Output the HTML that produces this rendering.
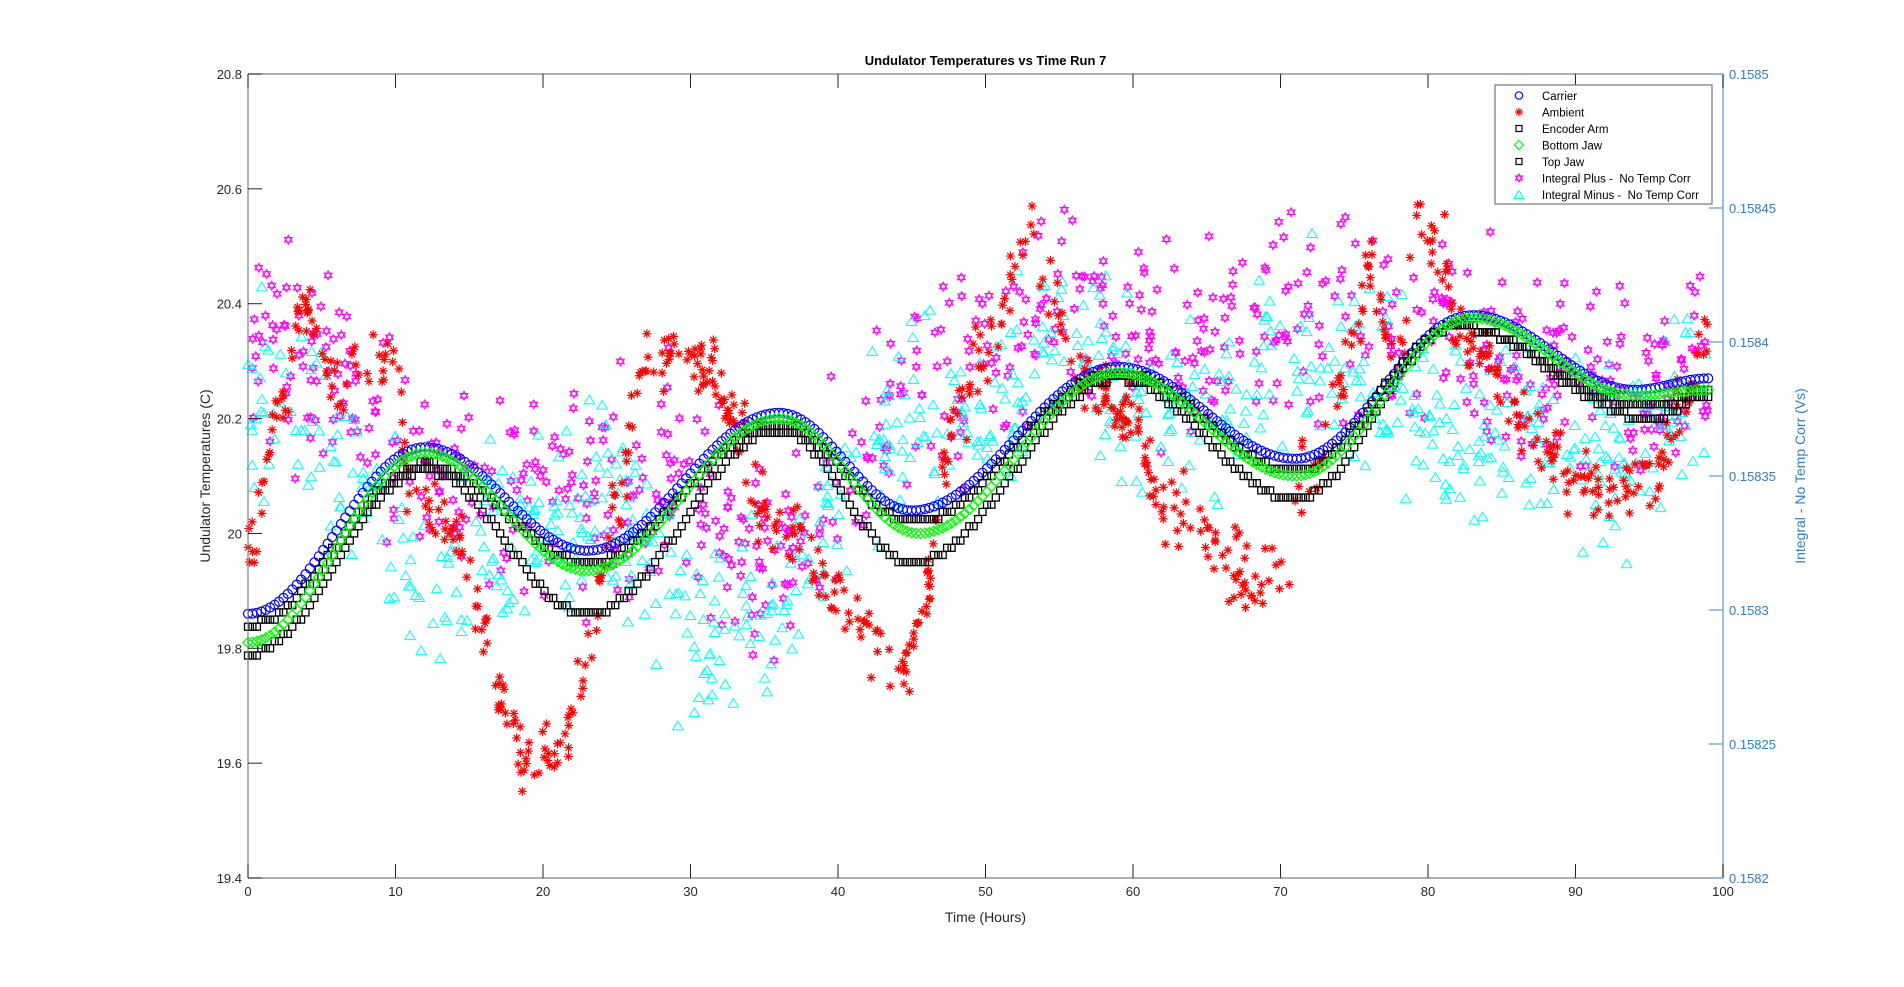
<!DOCTYPE html>
<html><head><meta charset="utf-8"><style>
html,body{margin:0;padding:0;background:#fff;width:1904px;height:987px;overflow:hidden}
svg{display:block}
text{font-family:"Liberation Sans",Arial,sans-serif}
</style></head><body>
<svg id="s" width="1904" height="987" xmlns="http://www.w3.org/2000/svg"></svg>
<script>
(function(){
var S=document.getElementById('s');
var X0=248,X1=1723,Y0=74,Y1=878;
function px(t){return X0+(t/100)*(X1-X0);}
function py(v){return Y1-(v-19.4)/1.4*(Y1-Y0);}
var seed=12345;function rnd(){seed=(seed*1103515245+12345)%2147483648;return seed/2147483648;}
function gauss(){return (rnd()+rnd()+rnd()+rnd()-2)/0.58;}
function interp(k,t){for(var i=0;i<k.length-1;i++){if(t<=k[i+1][0]){var a=k[i],b=k[i+1];var f=(t-a[0])/(b[0]-a[0]);var c=(1-Math.cos(Math.PI*f))/2;return a[1]+(b[1]-a[1])*c;}}return k[k.length-1][1];}
var h='';
var carrier=[[0,19.86],[12,20.15],[23,19.97],[36,20.21],[45,20.04],[59,20.29],[71,20.13],[83,20.38],[94,20.25],[99,20.27]];
var bottomJ=[[0,19.81],[12,20.14],[23,19.935],[36,20.2],[45.5,20.0],[59,20.28],[71,20.1],[83,20.375],[94,20.24],[99,20.25]];
var encA=[[0,19.79],[12,20.11],[23,19.86],[36,20.18],[45,19.95],[59,20.27],[71,20.06],[82,20.36],[95,20.20],[99,20.24]];
var topJ=[[0,19.84],[12,20.12],[23,19.95],[36,20.19],[45,20.02],[59,20.28],[71,20.11],[82,20.36],[95,20.22],[99,20.25]];
var amb=[[0,19.98],[2,20.2],[4,20.4],[6,20.25],[8,20.3],[10,20.3],[11,20.05],[14,20.0],[16,19.85],[17,19.7],[19.5,19.6],[21,19.62],[23,19.8],[25,20.05],[27,20.3],[29,20.3],[31,20.3],[33,20.2],[35,20.05],[37,20.0],[40,19.9],[43,19.8],[44.5,19.75],[46,19.9],[48,20.2],[50,20.3],[52,20.45],[53,20.55],[54,20.45],[56,20.3],[58,20.25],[60,20.2],[62,20.05],[65,20.0],[67,19.95],[68,19.88],[70,19.95],[72,20.1],[74,20.25],[75,20.35],[76,20.45],[78,20.3],[79.5,20.55],[81,20.5],[82,20.35],[84,20.3],[86,20.2],[88,20.15],[90,20.1],[92,20.07],[95,20.1],[97,20.2],[99,20.35]];
var mag=[[0,20.3],[5,20.28],[10,20.15],[15,20.05],[20,20.05],[25,20.1],[30,20.05],[35,19.95],[40,20.05],[45,20.25],[50,20.3],[55,20.4],[60,20.35],[65,20.3],[70,20.38],[75,20.42],[80,20.35],[85,20.3],[90,20.3],[95,20.25],[99,20.3]];
var cya=[[0,20.25],[5,20.2],[10,20.0],[13,19.9],[15,19.95],[20,20.0],[25,20.05],[30,19.85],[35,19.85],[40,20.05],[45,20.2],[50,20.2],[55,20.35],[60,20.25],[65,20.2],[70,20.3],[75,20.3],[80,20.2],[85,20.2],[90,20.15],[95,20.15],[99,20.25]];
function hexa(x,y,r){var a=[],b=[];for(var i=0;i<3;i++){var t=-Math.PI/2+i*2*Math.PI/3;a.push((x+r*Math.cos(t)).toFixed(1)+','+(y+r*Math.sin(t)).toFixed(1));t=Math.PI/2+i*2*Math.PI/3;b.push((x+r*Math.cos(t)).toFixed(1)+','+(y+r*Math.sin(t)).toFixed(1));}return '<polygon points="'+a.join(' ')+'"/><polygon points="'+b.join(' ')+'"/>';}
function star(x,y,r){return '<path d="M'+(x-r)+','+y+'H'+(x+r)+'M'+x+','+(y-r)+'V'+(y+r)+'M'+(x-r*.7)+','+(y-r*.7)+'L'+(x+r*.7)+','+(y+r*.7)+'M'+(x-r*.7)+','+(y+r*.7)+'L'+(x+r*.7)+','+(y-r*.7)+'"/>';}
function tri(x,y,r){return '<polygon points="'+x+','+(y-r)+' '+(x-r*0.95)+','+(y+r*0.6)+' '+(x+r*0.95)+','+(y+r*0.6)+'"/>';}
var g='';
var cg='',mg='';
for(var i=0;i<750;i++){var t=rnd()*99;var v=interp(cya,t)+gauss()*0.08;cg+=tri(px(t),py(v),5.5);
 t=rnd()*99;v=interp(mag,t)+gauss()*0.09;mg+=hexa(px(t),py(v),4.5);}
g+='<g fill="none" stroke="#FF00FF" stroke-width="1">'+mg+'</g>';
g+='<g fill="none" stroke="#00FFFF" stroke-width="1">'+cg+'</g>';
g+='<g stroke="#FF0000" stroke-width="1.2">';
for(var i=0;i<750;i++){var t=rnd()*99;var v=interp(amb,t)+gauss()*0.03;g+=star(px(t),py(v),4.5);}
g+='</g>';
function q(v){return Math.round(v/0.0125)*0.0125;}
var gb='<g fill="none" stroke="#000" stroke-width="1.3">',gg='<g fill="none" stroke="#00FF00" stroke-width="1.3">',gc='<g fill="none" stroke="#0000FF" stroke-width="1.2">';
for(var t=0;t<=99;t+=0.3){
 var xe=px(t);
 var v=q(interp(encA,t));gb+='<rect x="'+(xe-3.5).toFixed(1)+'" y="'+(py(v)-3.5).toFixed(1)+'" width="7" height="7"/>';
 v=q(interp(topJ,t));gb+='<rect x="'+(xe-3.5).toFixed(1)+'" y="'+(py(v)-3.5).toFixed(1)+'" width="7" height="7"/>';
 v=interp(bottomJ,t);var yy=py(v);gg+='<polygon points="'+xe+','+(yy-5)+' '+(xe+5)+','+yy+' '+xe+','+(yy+5)+' '+(xe-5)+','+yy+'"/>';
 v=interp(carrier,t);gc+='<circle cx="'+xe.toFixed(1)+'" cy="'+py(v).toFixed(1)+'" r="4.5"/>';
}
g+=gc+'</g>'+gb+'</g>'+gg+'</g>';
h+=g;
h+='<path d="M'+X0+','+Y0+'H'+X1+'M'+X0+','+Y1+'H'+X1+'M'+X0+','+Y0+'V'+Y1+'" stroke="#808080" stroke-width="1.2" fill="none"/>';
h+='<path d="M'+X1+','+Y0+'V'+Y1+'" stroke="#77AEDB" stroke-width="1.5"/>';
for(var i=0;i<=10;i++){var x=px(i*10);h+='<path d="M'+x+','+Y1+'v-14M'+x+','+Y0+'v14" stroke="#222" stroke-width="1"/>';h+='<text x="'+x+'" y="'+(Y1+18)+'" font-size="13" text-anchor="middle" fill="#262626">'+(i*10)+'</text>';}
for(var i=0;i<=7;i++){var v=19.4+i*0.2;var y=py(v);h+='<path d="M'+X0+','+y+'h14" stroke="#222"/>';h+='<text x="'+(X0-6)+'" y="'+(y+5)+'" font-size="13" text-anchor="end" fill="#262626">'+v.toFixed(1).replace(/\.0$/,'')+'</text>';}
var rl=['0.1582','0.15825','0.1583','0.15835','0.1584','0.15845','0.1585'];
for(var i=0;i<=6;i++){var y=Y1-i*(Y1-Y0)/6;h+='<path d="M'+X1+','+y+'h-14" stroke="#77AEDB" stroke-width="1.5"/>';h+='<text x="'+(X1+6)+'" y="'+(y+5)+'" font-size="13" fill="#2A7FC4">'+rl[i]+'</text>';}
h+='<text x="'+((X0+X1)/2)+'" y="65" font-size="13" font-weight="bold" text-anchor="middle" fill="#000">Undulator Temperatures vs Time Run 7</text>';
h+='<text x="'+((X0+X1)/2)+'" y="922" font-size="14" text-anchor="middle" fill="#262626">Time (Hours)</text>';
h+='<text transform="translate(210,'+((Y0+Y1)/2)+') rotate(-90)" font-size="14" text-anchor="middle" fill="#262626">Undulator Temperatures (C)</text>';
h+='<text transform="translate(1805,'+((Y0+Y1)/2)+') rotate(-90)" font-size="14" text-anchor="middle" fill="#2A7FC4">Integral -  No Temp Corr (Vs)</text>';
h+='<rect x="1495" y="85" width="217" height="119" fill="#fff" stroke="#808080" stroke-width="1.3"/>';
var L=['Carrier','Ambient','Encoder Arm','Bottom Jaw','Top Jaw','Integral Plus -  No Temp Corr','Integral Minus -  No Temp Corr'];
for(var i=0;i<7;i++){var y=95.5+i*16.5;var mx=1519;
 if(i==0)h+='<circle cx="'+mx+'" cy="'+y+'" r="3.7" fill="none" stroke="#0000FF" stroke-width="1.2"/>';
 if(i==1)h+='<g stroke="#F00" stroke-width="1.2">'+star(mx,y,4)+'</g>';
 if(i==2||i==4)h+='<rect x="'+(mx-3)+'" y="'+(y-3)+'" width="6" height="6" fill="none" stroke="#000" stroke-width="1.2"/>';
 if(i==3)h+='<polygon points="'+mx+','+(y-4.5)+' '+(mx+4.5)+','+y+' '+mx+','+(y+4.5)+' '+(mx-4.5)+','+y+'" fill="none" stroke="#0F0" stroke-width="1.2"/>';
 if(i==5)h+='<g fill="none" stroke="#F0F">'+hexa(mx,y,4)+'</g>';
 if(i==6)h+='<g fill="none" stroke="#0FF" stroke-width="1.2">'+tri(mx,y+1,5)+'</g>';
 h+='<text x="1542" y="'+(y+4.5)+'" font-size="11.5" fill="#000" xml:space="preserve">'+L[i]+'</text>';}
S.innerHTML=h;
})();
</script>
</body></html>
